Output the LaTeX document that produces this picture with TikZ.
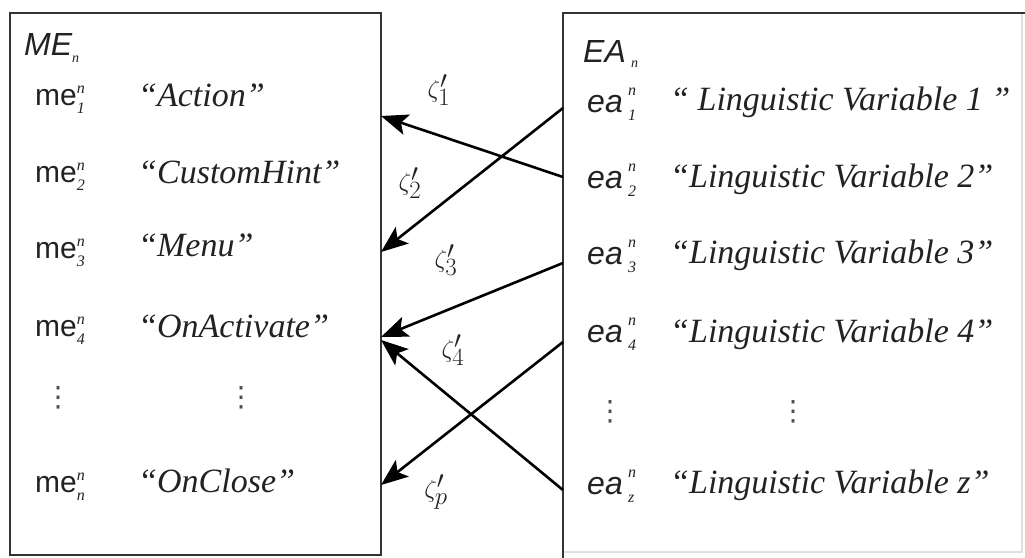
\documentclass[tikz,border=0pt]{standalone}
\usepackage{fontspec}
\setmainfont{Liberation Serif}
\setsansfont{Liberation Sans}
\newfontfamily\dejavu{DejaVu Sans}
\usetikzlibrary{arrows.meta}
\definecolor{ink}{HTML}{222222}
\definecolor{edge}{HTML}{333333}
\newcommand\scr[4]{\makebox[0pt][l]{\raisebox{#3pt}{\fontsize{16}{16}\selectfont\rmfamily\itshape #1}}\raisebox{#4pt}{\fontsize{16}{16}\selectfont\rmfamily\itshape #2}}
\tikzset{
  boxline/.style={draw=edge, line width=2.6pt},
  faintline/.style={draw=black!12, line width=1.5pt},
  sanslab/.style={anchor=base west, inner sep=0pt, text=ink, font=\fontsize{30}{36}\selectfont\sffamily},
  sansit/.style={anchor=base west, inner sep=0pt, text=ink, font=\fontsize{32}{36}\selectfont\sffamily\itshape},
  strlab/.style={anchor=base west, inner sep=0pt, text=ink, font=\fontsize{34}{38}\selectfont\itshape},
  dotlab/.style={anchor=center, inner sep=0pt, text=ink!80, font=\fontsize{28}{32}\selectfont\dejavu},
  zlab/.style={anchor=center, inner sep=0pt, text=ink, font=\fontsize{36}{40}\selectfont},
  link/.style={draw=black, line width=2.6pt, -{Stealth[length=27pt,width=21pt,inset=6pt]}}
}
\begin{document}
\begin{tikzpicture}[x=1pt,y=-1pt]
\useasboundingbox (0,0) rectangle (1025,557);
% boxes
\draw[faintline] (1022,13) -- (1022,552) -- (563,552);
\draw[boxline] (1030,13) -- (563,13) -- (563,565);
\draw[boxline] (10,13) rectangle (381,555);

% left box texts
\node[sansit] (MEn) at (24,55) {ME\raisebox{-7pt}{\fontsize{14}{14}\selectfont\rmfamily\itshape n}};
\node[sanslab] (me1) at (35,105) {me\scr{n}{1}{12}{-8}};
\node[sanslab] (me2) at (35,182) {me\scr{n}{2}{12}{-8}};
\node[sanslab] (me3) at (35,258) {me\scr{n}{3}{12}{-8}};
\node[sanslab] (me4) at (35,336) {me\scr{n}{4}{12}{-8}};
\node[sanslab] (men) at (35,492) {me\scr{n}{n}{12}{-8}};
\node[strlab] (s1) at (138,106) {``Action''};
\node[strlab] (s2) at (138,183) {``CustomHint''};
\node[strlab] (s3) at (138,256) {``Menu''};
\node[strlab] (s4) at (138,337) {``OnActivate''};
\node[strlab] (s5) at (138,492) {``OnClose''};
\node[dotlab] (ld1) at (58,398) {⋮};
\node[dotlab] (ld2) at (241,398) {⋮};

% right box texts
\node[sansit] (EAn) at (583,62) {EA\,\raisebox{-5pt}{\fontsize{14}{14}\selectfont\rmfamily\itshape n}};
\node[sansit] (ea1) at (587,112) {ea\,\scr{n}{1}{17}{-8}};
\node[sansit] (ea2) at (587,188) {ea\,\scr{n}{2}{17}{-8}};
\node[sansit] (ea3) at (587,264) {ea\,\scr{n}{3}{17}{-8}};
\node[sansit] (ea4) at (587,342) {ea\,\scr{n}{4}{17}{-8}};
\node[sansit] (eaz) at (587,494) {ea\,\scr{n}{z}{17}{-8}};
\node[strlab] (t1) at (670,110) {`` Linguistic Variable 1 ''};
\node[strlab] (t2) at (670,187) {``Linguistic Variable 2''};
\node[strlab] (t3) at (670,263) {``Linguistic Variable 3''};
\node[strlab] (t4) at (670,342) {``Linguistic Variable 4''};
\node[strlab] (t5) at (670,493) {``Linguistic Variable z''};
\node[dotlab] (rd1) at (610,412) {⋮};
\node[dotlab] (rd2) at (793,412) {⋮};

% connector end points
\coordinate (a1s) at (563,177); \coordinate (a1e) at (381,116);
\coordinate (a2s) at (563,108); \coordinate (a2e) at (381,252);
\coordinate (a3s) at (563,263); \coordinate (a3e) at (381,337);
\coordinate (a4s) at (563,490); \coordinate (a4e) at (381,340);
\coordinate (a5s) at (563,342); \coordinate (a5e) at (381,485);
\draw[link] (a1s) -- (a1e);
\draw[link] (a2s) -- (a2e);
\draw[link] (a3s) -- (a3e);
\draw[link] (a4s) -- (a4e);
\draw[link] (a5s) -- (a5e);

% labels
\node[zlab] (z1) at (439,90) {$\zeta'_{1}$};
\node[zlab] (z2) at (410,183) {$\zeta'_{2}$};
\node[zlab] (z3) at (446,260) {$\zeta'_{3}$};
\node[zlab] (z4) at (453,350) {$\zeta'_{4}$};
\node[zlab] (zp) at (436,492) {$\zeta'_{p}$};
\end{tikzpicture}
\end{document}
